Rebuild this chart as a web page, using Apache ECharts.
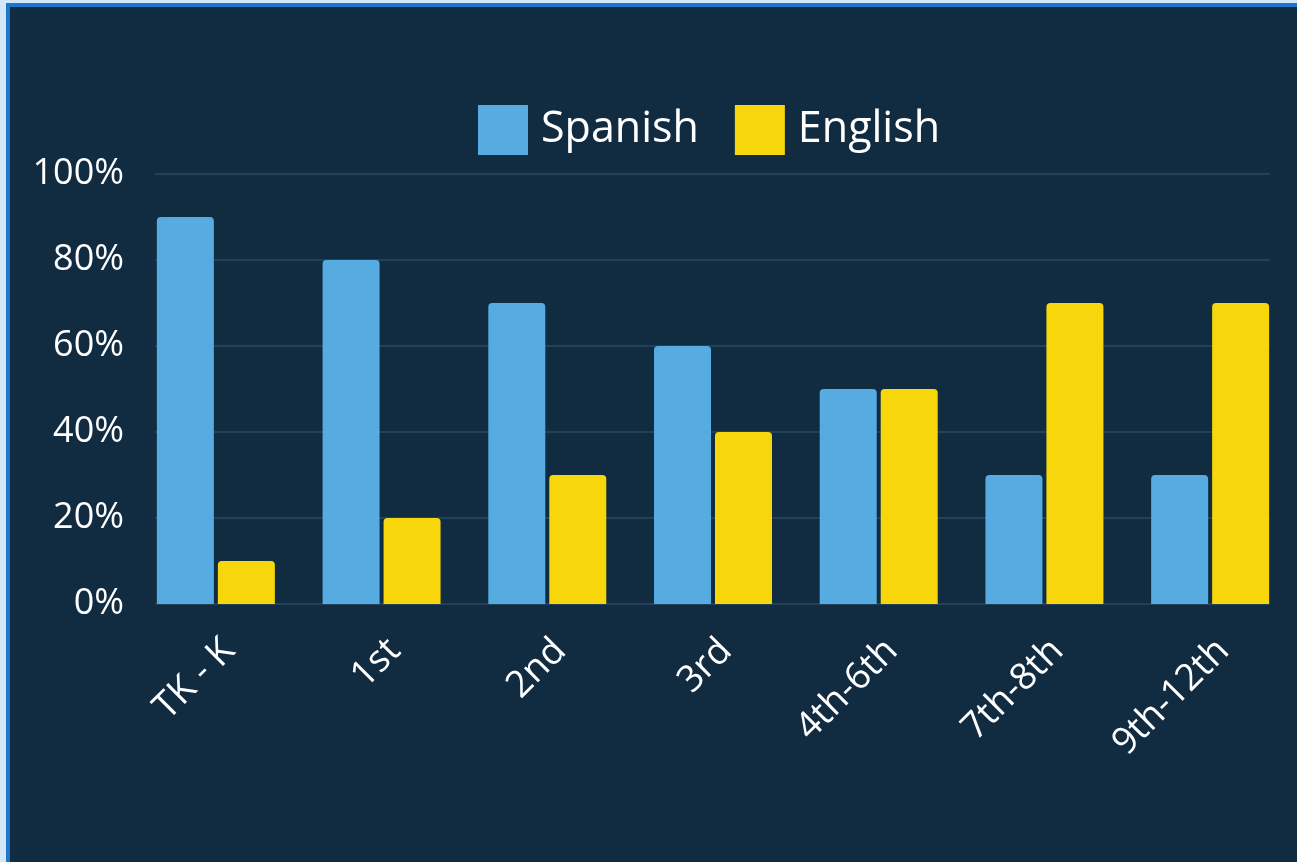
<!DOCTYPE html>
<html>
<head>
<meta charset="utf-8">
<script src="https://cdn.jsdelivr.net/npm/echarts@6/dist/echarts.min.js"></script>
<style>
  html, body { margin: 0; padding: 0; width: 1297px; height: 862px; overflow: hidden; background: #d2e7f7; }
  #frame { position: absolute; left: 6px; top: 3px; width: 1400px; height: 1000px;
           border-left: 4px solid #1c76cc; border-top: 4px solid #1c76cc; background: #112b41; }
  #chart { position: absolute; left: 0; top: 0; width: 1297px; height: 862px; }
</style>
</head>
<body>
<div id="frame"></div>
<div id="chart"></div>
<script>
const categories = ["TK - K", "1st", "2nd", "3rd", "4th-6th", "7th-8th", "9th-12th"];
const spanish = [90, 80, 70, 60, 50, 30, 30];
const english = [10, 20, 30, 40, 50, 70, 70];
const yTicks = [0, 20, 40, 60, 80, 100];

const FONT = '"Open Sans", "Noto Sans", sans-serif';
const chart = echarts.init(document.getElementById('chart'), null, { renderer: 'canvas' });
chart.setOption({
  backgroundColor: 'transparent',
  animation: false,
  legend: {
    left: 478, top: 105, padding: 0,
    itemWidth: 50, itemHeight: 50, itemGap: 36,
    icon: 'rect',
    data: ['Spanish', 'English'],
    textStyle: { color: '#ffffff', fontSize: 43, fontWeight: 500, fontFamily: FONT, padding: [0, 0, 0, 8], lineHeight: 50 }
  },
  grid: [
    { left: 133, right: 4, top: 174, bottom: 258 },
    { left: 155, right: 27, top: 174, bottom: 258 }
  ],
  xAxis: [
    {
      type: 'category', gridIndex: 0, data: categories,
      axisLine: { show: false }, axisTick: { show: false },
      axisLabel: { color: '#ffffff', fontSize: 37, fontWeight: 500, fontFamily: FONT, rotate: 45, margin: 28, verticalAlign: 'top', interval: 0 }
    },
    { type: 'value', gridIndex: 1, show: false }
  ],
  yAxis: [
    { type: 'value', gridIndex: 0, min: 0, max: 100, show: false, splitLine: { show: false } },
    {
      type: 'value', gridIndex: 1, min: yTicks[0], max: yTicks[yTicks.length - 1], interval: 20,
      axisLine: { show: false }, axisTick: { show: false },
      axisLabel: { color: '#ffffff', fontSize: 36, fontWeight: 500, fontFamily: FONT, margin: 31, formatter: '{value}%' },
      splitLine: { lineStyle: { color: '#2b4a63', width: 1.5 } }
    }
  ],
  series: [
    { name: 'Spanish', type: 'bar', xAxisIndex: 0, yAxisIndex: 0, data: spanish, barWidth: 57, barGap: '7%',
      itemStyle: { color: '#56ace0', borderRadius: [4, 4, 0, 0] } },
    { name: 'English', type: 'bar', xAxisIndex: 0, yAxisIndex: 0, data: english, barWidth: 57, barGap: '7%',
      itemStyle: { color: '#f7d70c', borderRadius: [4, 4, 0, 0] } }
  ]
});
</script>
</body>
</html>
